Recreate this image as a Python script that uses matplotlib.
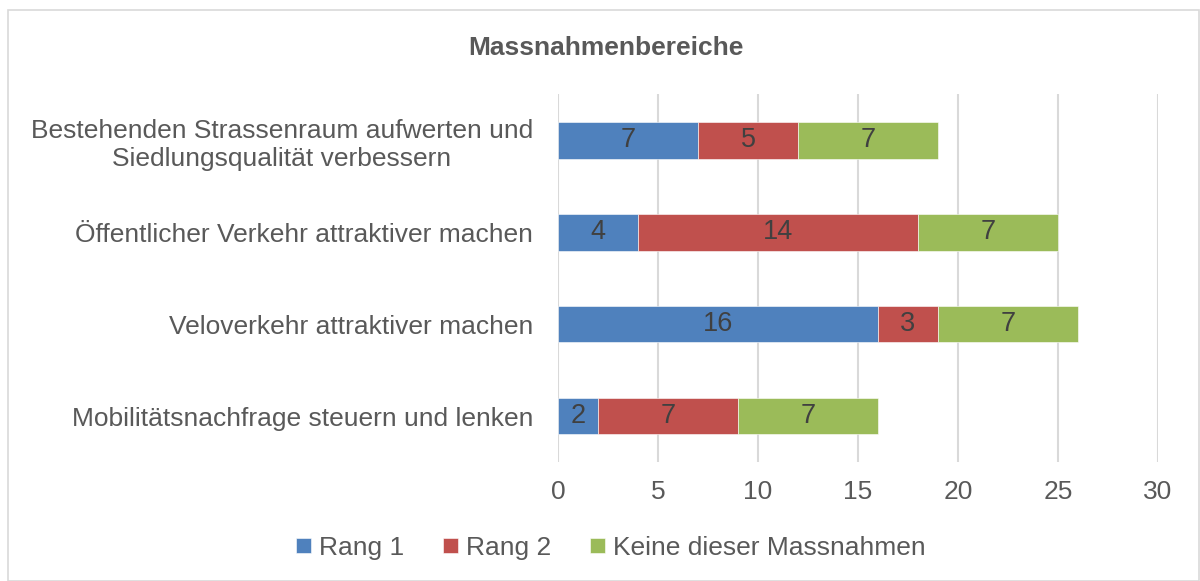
import matplotlib.pyplot as plt
from matplotlib.patches import Rectangle

plt.rcParams['font.family'] = ['Liberation Sans', 'DejaVu Sans']

# Daten
kategorien = ['Bestehenden Strassenraum aufwerten und\nSiedlungsqualität verbessern',
              'Öffentlicher Verkehr attraktiver machen',
              'Veloverkehr attraktiver machen',
              'Mobilitätsnachfrage steuern und lenken']
rang1 = [7, 4, 16, 2]
rang2 = [5, 14, 3, 7]
keine = [7, 7, 7, 7]
serien = ['Rang 1', 'Rang 2', 'Keine dieser Massnahmen']
farben = ['#4F81BD', '#C0504D', '#9BBB59']
x_ticks = [0, 5, 10, 15, 20, 25, 30]

fig = plt.figure(figsize=(12, 5.81), dpi=100)
ax = fig.add_axes([0.465, 0.2048, 0.5, 0.633])

y = list(range(len(kategorien)))
links = [0] * len(kategorien)
for werte, name, farbe in zip([rang1, rang2, keine], serien, farben):
    bars = ax.barh(y, werte, left=links, height=0.4, color=farbe, label=name,
                   edgecolor='white', linewidth=0.4, zorder=3)
    ax.bar_label(bars, labels=[str(v) for v in werte], label_type='center',
                 fontsize=19.5, color='#404040')
    links = [l + w for l, w in zip(links, werte)]

ax.set_ylim(len(kategorien) - 0.5, -0.5)
ax.set_xlim(0, 30)
ax.set_xticks(x_ticks)
ax.set_yticks(y)
ax.set_yticklabels(kategorien, fontsize=19, color='#595959', ha='right',
                   multialignment='center', linespacing=1.25)
ax.tick_params(axis='y', length=0, pad=18)
ax.tick_params(axis='x', length=0, labelsize=19, labelcolor='#595959', pad=13)
ax.grid(axis='x', color='#D9D9D9', linewidth=1.5, zorder=0)
for s in ax.spines.values():
    s.set_visible(False)

fig.text(0.505, 0.918, 'Massnahmenbereiche', ha='center', va='center',
         fontsize=19, fontweight='bold', color='#595959')

fig.legend(loc='center', bbox_to_anchor=(0.509, 0.057), ncol=3, frameon=False,
           fontsize=19, labelcolor='#595959', handlelength=0.55, handleheight=0.55,
           handletextpad=0.3, columnspacing=1.5)

fig.add_artist(Rectangle((8 / 1200, 0.0), 1 - 8 / 1200 - 0.001, 1 - 10 / 581,
                         transform=fig.transFigure, fill=False,
                         edgecolor='#D9D9D9', linewidth=1.2))

fig.savefig('out.png', dpi=100)
